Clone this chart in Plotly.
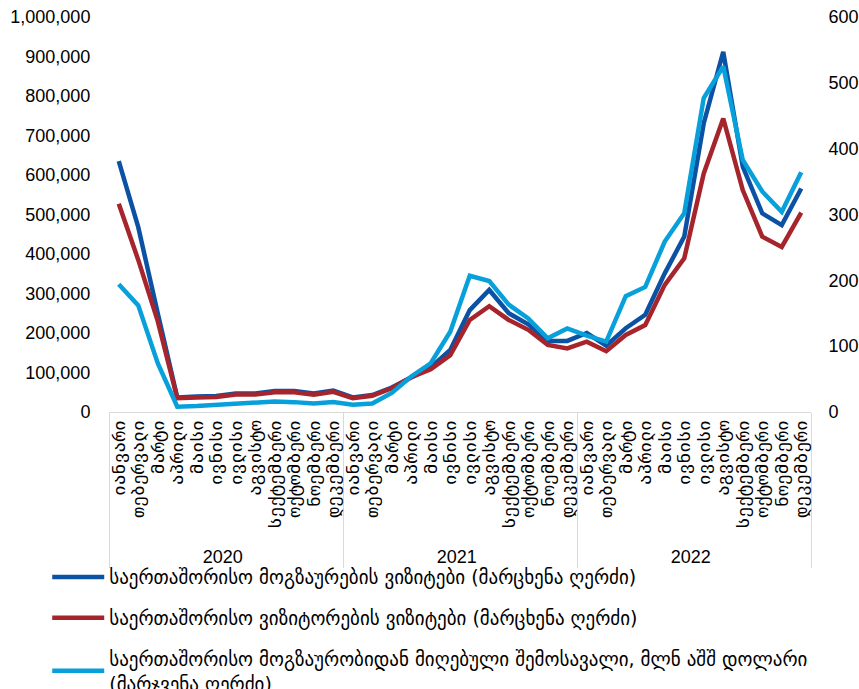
import plotly.graph_objects as go

years = ["2020", "2021", "2022"]
months = ["იანვარი", "თებერვალი", "მარტი", "აპრილი", "მაისი", "ივნისი",
          "ივლისი", "აგვისტო", "სექტემბერი", "ოქტომბერი", "ნოემბერი", "დეკემბერი"]

travellers = [635000, 468000, 250000, 37000, 39000, 40500, 47000, 47000, 53000, 53000, 47000, 54000,
              37000, 43000, 62000, 88000, 113000, 157000, 258000, 309000, 250000, 222000, 180000, 180000,
              200000, 168000, 212000, 246000, 351000, 444000, 731000, 912000, 621000, 503000, 473000, 566000]
visitors = [527000, 385000, 230000, 35000, 37000, 38000, 44000, 44000, 50000, 50000, 44000, 51000,
            35000, 41000, 60000, 88000, 108000, 144000, 233000, 268000, 233000, 208000, 170000, 161000,
            178000, 154000, 195000, 220000, 322000, 389000, 604000, 743000, 562000, 444000, 418000, 505000]
revenue = [194, 162, 74, 8, 9, 11, 12, 15, 16, 15, 13, 15,
           11, 13, 29, 54, 74, 122, 207, 199, 163, 142, 112, 127,
           116, 107, 176, 190, 259, 302, 477, 525, 383, 335, 304, 364]

names = ["საერთაშორისო მოგზაურების ვიზიტები (მარცხენა ღერძი)",
         "საერთაშორისო ვიზიტორების ვიზიტები (მარცხენა ღერძი)",
         "საერთაშორისო მოგზაურობიდან მიღებული შემოსავალი, მლნ აშშ დოლარი<br>(მარჯვენა ღერძი)"]
colors = ["#0B52A5", "#A6242C", "#07A0DA"]

xcat = [[y for y in years for _ in months], [m for _ in years for m in months]]

FONT = "Liberation Sans, Arial, DejaVu Sans, sans-serif"

fig = go.Figure()
fig.add_trace(go.Scatter(x=xcat, y=travellers, name=names[0], mode="lines",
                         line=dict(color=colors[0], width=4.5), legendgroup="a", yaxis="y"))
fig.add_trace(go.Scatter(x=xcat, y=visitors, name=names[1], mode="lines",
                         line=dict(color=colors[1], width=4.5), legendgroup="b", yaxis="y"))
fig.add_trace(go.Scatter(x=xcat, y=revenue, name=names[2], mode="lines",
                         line=dict(color=colors[2], width=4.5), legendgroup="c", yaxis="y2"))

fig.update_layout(
    width=859, height=689,
    margin=dict(l=109, r=48, t=17, b=277, autoexpand=False),
    paper_bgcolor="white", plot_bgcolor="white",
    font=dict(family=FONT, size=18, color="#000000"),
    showlegend=True,
    legend=dict(x=-0.088, y=-0.370, xanchor="left", yanchor="top", orientation="v",
                font=dict(size=19, family="DejaVu Sans, sans-serif"),
                itemwidth=52, tracegroupgap=13, bgcolor="rgba(0,0,0,0)"),
    xaxis=dict(type="multicategory", range=[-0.5, 35.5], tickangle=-90, showline=True,
               tickmode="linear", tick0=0, dtick=1,
               linecolor="#d9d9d9", linewidth=1, showgrid=False, ticks="", showdividers=True,
               dividercolor="#d9d9d9", dividerwidth=1,
               tickfont=dict(size=18, family="Liberation Sans, DejaVu Sans Mono, DejaVu Sans, sans-serif")),
    yaxis=dict(range=[0, 1000000], dtick=100000, tickformat=",", showgrid=False,
               zeroline=False, showline=False, ticks="outside", ticklen=14,
               tickcolor="rgba(0,0,0,0)", tickfont=dict(size=18), ticklabeloverflow="allow"),
    yaxis2=dict(range=[0, 600], dtick=100, overlaying="y", side="right", showgrid=False,
                zeroline=False, showline=False, ticks="outside", ticklen=13,
                tickcolor="rgba(0,0,0,0)", tickfont=dict(size=18), ticklabeloverflow="allow"),
)

fig.write_html("out.html", config={"displayModeBar": False},
               post_script="document.body.style.margin='0';document.body.style.overflow='hidden';")
